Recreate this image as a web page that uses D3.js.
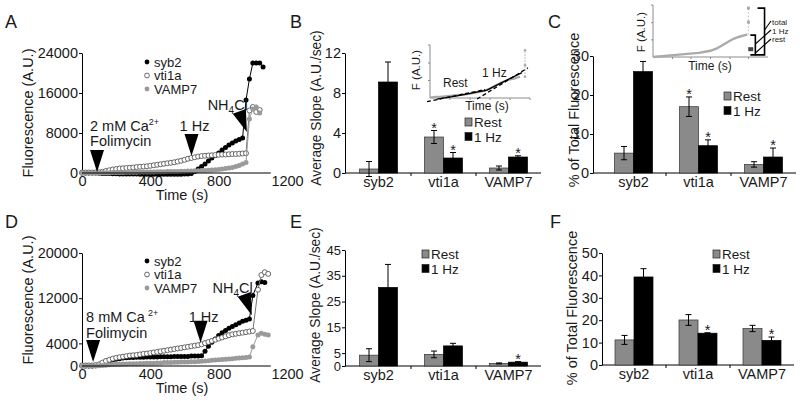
<!DOCTYPE html>
<html><head><meta charset="utf-8">
<script src="https://cdn.jsdelivr.net/npm/d3@7/dist/d3.min.js"></script>
<style>
body{margin:0;background:#fff;}
svg{display:block;font-family:"Liberation Sans",Arial,Helvetica,sans-serif;}
</style></head><body>
<svg id="chart" width="800" height="401"></svg>
<script>
// ---------------- DATA ----------------
const categories = ['syb2','vti1a','VAMP7'];
const conditions = ['Rest','1 Hz'];
const timeTicks = [0,400,800,1200];

// Panel A (2 mM Ca2+)
const timeA = [0,20,40,60,80,100,120,140,160,180,
  200,220,240,260,280,300,320,340,360,380,
  400,420,440,460,480,500,520,540,560,580,
  600,620,640,660,680,700,720,740,760,780,
  800,820,840,860,880,900,920,940,
  960,980,1000,1020,1040,1060];
const syb2A = [0,0,0,0,0,-50,-80,-100,-120,-150,
  -150,-180,-200,-200,-200,-220,-220,-250,-250,-250,
  -250,-250,-250,-250,-250,-250,-250,-250,-250,-250,
  -220,-200,-100,300,800,1300,1800,2400,3000,3500,
  4000,4600,5100,5600,6000,6400,6700,7000,
  14600,18800,22000,22000,22000,21200];
const vti1aA = [100,100,100,100,120,150,250,400,550,700,
  800,900,950,1000,1050,1100,1200,1250,1300,1350,
  1450,1550,1650,1750,1850,1950,2050,2150,2300,2450,
  2650,2850,3000,3150,3300,3400,3450,3500,3550,3600,
  3650,3700,3700,3750,3800,3800,3850,3900,
  3950,12500,13200,12200,12600,null];
const vamp7A = [0,0,0,0,0,0,50,50,50,100,
  100,100,100,150,150,150,150,200,200,200,
  200,200,250,250,250,300,300,300,300,350,
  350,400,400,450,450,500,500,550,600,650,
  700,800,900,1000,1100,1300,1500,1800,
  2100,10800,12800,13200,12000,null];
const yTicksA = [0,8000,16000,24000];
const stimTimesA = [88, 641, 965];       // Folimycin, 1 Hz, NH4Cl
const stimLevelsA = [200, 3400, 8200];

// Panel D (8 mM Ca2+)
const timeD = [0,20,40,60,80,100,120,140,160,180,
  200,220,240,260,280,300,320,340,360,380,
  400,420,440,460,480,500,520,540,560,580,
  600,620,640,660,680,700,720,740,760,780,
  800,820,840,860,880,900,920,940,960,980,
  1000,1030,1050,1070,1090];
const syb2D = [0,0,0,0,50,150,350,600,850,1050,
  1200,1300,1400,1450,1500,1500,1550,1550,1550,1600,
  1600,1600,1600,1650,1650,1650,1650,1700,1700,1700,
  1700,1700,1750,1750,1750,1800,2600,3500,4200,4800,
  5400,5900,6300,6700,7000,7300,7600,7900,8100,8300,
  12500,14700,14900,14800,null];
const vti1aD = [100,100,100,100,150,300,600,900,1100,1300,
  1450,1550,1650,1750,1850,1900,1950,2050,2150,2200,
  2300,2400,2500,2600,2700,2800,2900,3000,3100,3200,
  3300,3400,3500,3600,3700,3850,4050,4250,4450,4650,
  4850,5050,5250,5450,5600,5700,5800,5900,6000,6100,
  6200,13500,16100,16600,16300];
const vamp7D = [0,0,0,0,0,50,100,150,200,250,
  300,300,350,350,400,400,400,450,450,500,
  500,500,550,550,600,600,600,650,650,700,
  700,700,750,750,800,850,900,950,1000,1050,
  1100,1150,1200,1250,1300,1350,1400,1450,1500,1600,
  3400,5500,5800,5600,5500];
const yTicksD = [0,4000,12000,20000];
const stimTimesD = [65, 694, 994];
const stimLevelsD = [700, 4100, 9000];

// Panel B: average slope (A.U./sec), 2 mM
const slopeRestB = [0.4, 3.6, 0.5];
const slopeRestErrB = [0.75, 0.65, 0.2];
const slopeHzB = [9.1, 1.5, 1.6];
const slopeHzErrB = [2.0, 0.55, 0.12];
const starsRestB = [false, true, false];
const starsHzB = [false, true, true];
const yTicksB = [0,4,8,12];

// Panel C: % of total fluorescence, 2 mM
const pctRestC = [5.1, 17, 2.2];
const pctRestErrC = [1.7, 2.5, 0.7];
const pctHzC = [26, 7, 4.1];
const pctHzErrC = [2.6, 1.5, 2.3];
const starsRestC = [false, true, false];
const starsHzC = [false, true, true];
const yTicksC = [0,10,20,30];

// Panel E: average slope, 8 mM
const slopeRestE = [4.2, 4.5, 1.0];
const slopeRestErrE = [2.5, 1.3, 0.2];
const slopeHzE = [30.5, 7.8, 1.5];
const slopeHzErrE = [8.9, 1.0, 0.2];
const starsRestE = [false, false, false];
const starsHzE = [false, false, true];
const yTicksE = [0,5,15,25,35,45];

// Panel F: % of total fluorescence, 8 mM
const pctRestF = [11.2, 20.1, 16.3];
const pctRestErrF = [2.0, 2.4, 1.4];
const pctHzF = [39.3, 14.2, 11.0];
const pctHzErrF = [3.7, 0.2, 1.5];
const starsRestF = [false, false, false];
const starsHzF = [false, true, true];
const yTicksF = [0,10,20,30,40,50];

// Inset in B (schematic trace with fits)
const insetBTime = [0,5,10,15,20,25,30,35,40,45,50,55,60,65,70,75,80,85,88,90];
const insetBTrace = [1,2,2,3,4,5,6,7,8,10,12,14,18,23,28,32,35,37,39,40];
const insetBSpikeTime = [95,95,95];
const insetBSpike = [40,62,90];
const insetBFitTime = [7,30,57,92];
const insetBFit = [-2,5,15,48];
const restFitTime = [-3,55];
const restFitF = [-7,16];
const hzFitTime = [47,98];
const hzFitF = [-2,57];

// Inset in C (schematic trace with brackets)
const insetCTime = [0,5,10,15,20,25,30,35,40,45,50,55,60,65,70,75,80,82];
const insetCTrace = [0,1,2,3,4,5,6,7,8,10,12,16,22,29,35,39,42,43];
const insetCSpikeTime = [83,83];
const insetCSpike = [67,94];
const bracketTotal = [4,94];
const bracketHz = [4,42];

// ---------------- DRAWING ----------------
const svg = d3.select('#chart');
const FS = 14.5;
const GRAY = '#8a8a8a';
const TXT = '#1a1a1a';

function styleAxis(sel, fs){
  sel.attr('font-size', fs || FS).attr('font-family','"Liberation Sans", Arial, sans-serif');
  sel.selectAll('text').attr('fill',TXT);
  sel.selectAll('line,path').attr('stroke','#000').attr('stroke-width',1);
}
function yLabel(x, y, txt, fs){
  svg.append('text').attr('transform',`translate(${x},${y}) rotate(-90)`)
    .attr('text-anchor','middle').attr('dy','0.35em').attr('font-size',fs||FS).attr('fill',TXT).text(txt);
}
function letter(x, y, t){
  svg.append('text').attr('x',x).attr('y',y).attr('font-size',18).attr('fill',TXT).text(t);
}
function arrow(g, tx, ty, rot){
  g.append('path').attr('d','M-7,-22L7,-22L0,0Z')
    .attr('transform',`translate(${tx},${ty}) rotate(${rot})`).attr('fill','#000');
}

function drawTS(cfg){
  const g = svg.append('g');
  const x = d3.scaleLinear().domain([0,1200]).range([82,287]);
  const y = d3.scaleLinear().domain([0,cfg.yMax]).range([cfg.yBase,cfg.yTop]);
  const ya = g.append('g').attr('transform','translate(82,0)')
    .call(d3.axisLeft(y).tickValues(cfg.yTicks).tickSize(3).tickSizeOuter(0).tickPadding(1).tickFormat(d3.format('d')));
  styleAxis(ya);
  const xa = g.append('g').attr('transform',`translate(0,${cfg.yBase})`)
    .call(d3.axisBottom(x).tickValues(timeTicks).tickSize(0).tickPadding(3).tickFormat(d3.format('d')));
  xa.select('.domain').remove();
  styleAxis(xa);

  const series = [
    {vals: cfg.syb2, line:'#000', fill:'#000', stroke:'none'},
    {vals: cfg.vti1a, line:'#777', fill:'#fff', stroke:'#444'},
    {vals: cfg.vamp7, line:'#9a9a9a', fill:'#9a9a9a', stroke:'none'}
  ];
  series.forEach(s=>{
    const pts = cfg.time.map((t,i)=>({t, v:s.vals[i]})).filter(d=>d.v!==null);
    g.append('path').datum(pts)
      .attr('d', d3.line().x(d=>x(d.t)).y(d=>y(d.v)))
      .attr('fill','none').attr('stroke',s.line).attr('stroke-width',1);
    g.selectAll(null).data(pts).enter().append('circle')
      .attr('cx',d=>x(d.t)).attr('cy',d=>y(d.v)).attr('r',2.5)
      .attr('fill',s.fill).attr('stroke',s.stroke).attr('stroke-width',0.8);
  });
  g.append('line').attr('x1',82).attr('x2',x(1105)).attr('y1',cfg.yBase).attr('y2',cfg.yBase).attr('stroke','#000');

  // legend
  const leg = [{n:'syb2',fill:'#000',stroke:'none'},{n:'vti1a',fill:'#fff',stroke:'#444'},{n:'VAMP7',fill:'#9a9a9a',stroke:'none'}];
  leg.forEach((l,i)=>{
    const cy = cfg.legY + i*13.5;
    g.append('circle').attr('cx',147).attr('cy',cy).attr('r',2.4).attr('fill',l.fill).attr('stroke',l.stroke).attr('stroke-width',0.8);
    g.append('text').attr('x',154).attr('y',cy+4.5).attr('font-size',13).attr('fill',TXT).text(l.n);
  });

  // stimulus arrows
  const tips = cfg.stimT.map((t,i)=>[x(t), y(cfg.stimV[i])]);
  arrow(g, tips[0][0], tips[0][1], 0);
  arrow(g, tips[1][0], tips[1][1], 0);
  arrow(g, tips[2][0], tips[2][1], -20);
  const t1 = g.append('text').attr('x',tips[0][0]-7).attr('y',tips[0][1]-cfg.caOff).attr('font-size',FS).attr('fill',TXT).text(cfg.caText);
  t1.append('tspan').attr('dy',-6).attr('dx',cfg.caGap).attr('font-size',9).text('2+');
  g.append('text').attr('x',tips[0][0]-7).attr('y',tips[0][1]-cfg.folOff).attr('font-size',FS).attr('fill',TXT).text('Folimycin');
  g.append('text').attr('x',tips[1][0]+3).attr('y',tips[1][1]-cfg.hzOff).attr('text-anchor','middle').attr('font-size',FS).attr('fill',TXT).text('1 Hz');
  const nh = g.append('text').attr('x',tips[2][0]+1).attr('y',tips[2][1]-22).attr('text-anchor','end').attr('font-size',FS).attr('fill',TXT);
  nh.append('tspan').text('NH');
  nh.append('tspan').attr('dy',4).attr('font-size',10).text('4');
  nh.append('tspan').attr('dy',-4).text('Cl');

  g.append('text').attr('x',182).attr('y',cfg.yBase+27).attr('text-anchor','middle').attr('font-size',FS).attr('fill',TXT).text('Time (s)');
}

function drawBar(cfg){
  const g = svg.append('g');
  const x0 = d3.scaleBand().domain(categories).range(cfg.band).paddingInner(0).paddingOuter(0);
  const bw = x0.bandwidth();
  const x1 = d3.scaleBand().domain(conditions).range([bw/2-19, bw/2+19]);
  const y = d3.scaleLinear().domain([0,cfg.yMax]).range([cfg.yBase,cfg.yTop]);

  const ya = g.append('g').attr('transform',`translate(${cfg.axisX},0)`)
    .call(d3.axisLeft(y).tickValues(cfg.yTicks).tickSize(3).tickSizeOuter(0).tickPadding(1));
  styleAxis(ya, cfg.tickFS);
  g.append('line').attr('x1',cfg.axisX).attr('x2',cfg.band[1]).attr('y1',cfg.yBase).attr('y2',cfg.yBase).attr('stroke','#000');
  categories.slice(1).forEach(c=>{
    g.append('line').attr('x1',x0(c)).attr('x2',x0(c)).attr('y1',cfg.yBase).attr('y2',cfg.yBase+3).attr('stroke','#000');
  });
  categories.forEach(c=>{
    g.append('text').attr('x',x0(c)+bw/2).attr('y',cfg.yBase+14).attr('text-anchor','middle').attr('font-size',FS).attr('fill',TXT).text(c);
  });

  const sets = [
    {cond:'Rest', v:cfg.rest, e:cfg.restErr, s:cfg.starsRest, fill:GRAY, stroke:'#333'},
    {cond:'1 Hz', v:cfg.hz, e:cfg.hzErr, s:cfg.starsHz, fill:'#000', stroke:'#000'}
  ];
  sets.forEach(st=>{
    categories.forEach((c,i)=>{
      const bx = x0(c)+x1(st.cond);
      const v = st.v[i], e = st.e[i];
      g.append('rect').attr('x',bx).attr('y',y(v)).attr('width',x1.bandwidth()).attr('height',y(0)-y(v))
        .attr('fill',st.fill).attr('stroke',st.stroke).attr('stroke-width',0.7);
      const cx = bx + x1.bandwidth()/2;
      g.append('line').attr('x1',cx).attr('x2',cx).attr('y1',y(v-e)).attr('y2',y(v+e)).attr('stroke','#000').attr('stroke-width',1);
      [v-e, v+e].forEach(yy=>{
        g.append('line').attr('x1',cx-3).attr('x2',cx+3).attr('y1',y(yy)).attr('y2',y(yy)).attr('stroke','#000').attr('stroke-width',1);
      });
      if (st.s[i]) {
        g.append('text').attr('x',cx).attr('y',y(v+e)+2.3).attr('text-anchor','middle').attr('font-size',FS).attr('fill',TXT).text('*');
      }
    });
  });

  // legend
  conditions.forEach((c,i)=>{
    const by = cfg.legY + i*14.5;
    g.append('rect').attr('x',cfg.legX).attr('y',by-9).attr('width',7).attr('height',8)
      .attr('fill', i===0?GRAY:'#000').attr('stroke','#222').attr('stroke-width',0.7);
    g.append('text').attr('x',cfg.legX+9).attr('y',by).attr('font-size',13.5).attr('fill',TXT).text(c);
  });
}

// ---- Panels ----
letter(5,28,'A'); letter(5,228,'D');
letter(290,28,'B'); letter(290,228,'E');
letter(548,28,'C'); letter(550,228,'F');

yLabel(28,113,'Fluorescence (A.U.)');
yLabel(28,300,'Fluorescence (A.U.)');
yLabel(316,108,'Average Slope (A.U./sec)',13.8);
yLabel(315,305,'Average Slope (A.U./sec)',13.8);
yLabel(574,110,'% of Total Fluorescence');
yLabel(572,308,'% of Total Fluorescence');

drawTS({time:timeA, syb2:syb2A, vti1a:vti1aA, vamp7:vamp7A, yMax:24000, yTicks:yTicksA,
  yBase:173, yTop:53, legY:62, stimT:stimTimesA, stimV:stimLevelsA,
  caText:'2 mM Ca', caGap:0, caOff:41, folOff:26, hzOff:25});
drawTS({time:timeD, syb2:syb2D, vti1a:vti1aD, vamp7:vamp7D, yMax:20000, yTicks:yTicksD,
  yBase:366, yTop:253, legY:261, stimT:stimTimesD, stimV:stimLevelsD,
  caText:'8 mM Ca', caGap:3, caOff:40, folOff:24, hzOff:21});

drawBar({band:[346,541], axisX:345, yMax:12, yTicks:yTicksB, yBase:173, yTop:53,
  rest:slopeRestB, restErr:slopeRestErrB, hz:slopeHzB, hzErr:slopeHzErrB, starsRest:starsRestB, starsHz:starsHzB,
  legX:465, legY:127});
drawBar({band:[601,796], axisX:593, yMax:30, yTicks:yTicksC, yBase:173, yTop:56,
  rest:pctRestC, restErr:pctRestErrC, hz:pctHzC, hzErr:pctHzErrC, starsRest:starsRestC, starsHz:starsHzC,
  legX:724, legY:101});
drawBar({band:[346,541], axisX:345, yMax:45, yTicks:yTicksE, yBase:366, yTop:250, tickFS:13,
  rest:slopeRestE, restErr:slopeRestErrE, hz:slopeHzE, hzErr:slopeHzErrE, starsRest:starsRestE, starsHz:starsHzE,
  legX:422, legY:259});
drawBar({band:[602,794], axisX:602, yMax:50, yTicks:yTicksF, yBase:365, yTop:253,
  rest:pctRestF, restErr:pctRestErrF, hz:pctHzF, hzErr:pctHzErrF, starsRest:starsRestF, starsHz:starsHzF,
  legX:713, legY:259});

// ---- Inset B ----
(function(){
  const g = svg.append('g');
  const x = d3.scaleLinear().domain([0,100]).range([430,530]);
  const y = d3.scaleLinear().domain([0,100]).range([98,45]);
  const ax = '#8c8c8c';
  g.append('line').attr('x1',x(0)).attr('x2',x(0)).attr('y1',y(0)).attr('y2',y(100)).attr('stroke',ax);
  g.append('line').attr('x1',x(0)).attr('x2',x(100)).attr('y1',y(0)).attr('y2',y(0)).attr('stroke',ax);
  [20,40,60,80,100].forEach(t=>g.append('line').attr('x1',x(t)).attr('x2',x(t)).attr('y1',y(0)).attr('y2',y(0)+2).attr('stroke',ax));
  [33,66,100].forEach(f=>g.append('line').attr('x1',x(0)-2).attr('x2',x(0)).attr('y1',y(f)).attr('y2',y(f)).attr('stroke',ax));
  const tr = insetBTime.map((t,i)=>({t,f:insetBTrace[i]}));
  g.append('path').datum(tr).attr('d',d3.line().x(d=>x(d.t)).y(d=>y(d.f))).attr('fill','none').attr('stroke','#aaa').attr('stroke-width',2.2);
  const sp = insetBSpikeTime.map((t,i)=>({t,f:insetBSpike[i]}));
  g.append('line').attr('x1',x(sp[0].t)).attr('x2',x(sp[0].t)).attr('y1',y(insetBTrace[insetBTrace.length-1])).attr('y2',y(sp[2].f))
    .attr('stroke','#aaa').attr('stroke-dasharray','1.5,1.5');
  g.selectAll(null).data(sp).enter().append('circle').attr('cx',d=>x(d.t)).attr('cy',d=>y(d.f)).attr('r',1.3).attr('fill','#aaa');
  const fit = insetBFitTime.map((t,i)=>({t,f:insetBFit[i]}));
  g.append('path').datum(fit).attr('d',d3.line().x(d=>x(d.t)).y(d=>y(d.f))).attr('fill','none').attr('stroke','#000').attr('stroke-width',1.3);
  [[restFitTime,restFitF],[hzFitTime,hzFitF]].forEach(([tt,ff])=>{
    const pts = tt.map((t,i)=>({t,f:ff[i]}));
    g.append('path').datum(pts).attr('d',d3.line().x(d=>x(d.t)).y(d=>y(d.f))).attr('fill','none')
      .attr('stroke','#000').attr('stroke-width',1.3).attr('stroke-dasharray','4,2.5');
  });
  g.append('text').attr('x',443).attr('y',87).attr('font-size',12).attr('fill',TXT).text('Rest');
  g.append('text').attr('x',482).attr('y',77).attr('font-size',12).attr('fill',TXT).text('1 Hz');
  g.append('text').attr('x',487).attr('y',110).attr('text-anchor','middle').attr('font-size',12).attr('fill',TXT).text('Time (s)');
  g.append('text').attr('transform','translate(420,70) rotate(-90)').attr('text-anchor','middle').attr('font-size',11.5).attr('fill',TXT).text('F (A.U.)');
})();

// ---- Inset C ----
(function(){
  const g = svg.append('g');
  const x = d3.scaleLinear().domain([0,100]).range([653,768]);
  const y = d3.scaleLinear().domain([0,100]).range([57,5]);
  const ax = '#8c8c8c';
  g.append('line').attr('x1',x(0)).attr('x2',x(0)).attr('y1',y(0)).attr('y2',y(100)).attr('stroke',ax);
  g.append('line').attr('x1',x(0)).attr('x2',x(100)).attr('y1',y(0)).attr('y2',y(0)).attr('stroke',ax);
  [17,33,50,67,83].forEach(t=>g.append('line').attr('x1',x(t)).attr('x2',x(t)).attr('y1',y(0)).attr('y2',y(0)+2).attr('stroke',ax));
  [33,66,100].forEach(f=>g.append('line').attr('x1',x(0)-2).attr('x2',x(0)).attr('y1',y(f)).attr('y2',y(f)).attr('stroke',ax));
  const tr = insetCTime.map((t,i)=>({t,f:insetCTrace[i]}));
  g.append('path').datum(tr).attr('d',d3.line().x(d=>x(d.t)).y(d=>y(d.f))).attr('fill','none').attr('stroke','#aaa').attr('stroke-width',2.4);
  const sp = insetCSpikeTime.map((t,i)=>({t,f:insetCSpike[i]}));
  g.append('line').attr('x1',x(sp[0].t)).attr('x2',x(sp[0].t)).attr('y1',y(insetCTrace[insetCTrace.length-1])).attr('y2',y(sp[1].f))
    .attr('stroke','#bbb').attr('stroke-dasharray','1.5,2');
  g.selectAll(null).data(sp).enter().append('rect').attr('x',d=>x(d.t)-1.5).attr('y',d=>y(d.f)-1.5).attr('width',3).attr('height',3).attr('fill','#aaa');
  g.append('rect').attr('x',x(85)-2.5).attr('y',y(15)-2).attr('width',5).attr('height',4).attr('fill','#444');
  const bT = x(97), bH = x(89);
  g.append('path').attr('d',`M${bT-7},${y(bracketTotal[1])}H${bT}V${y(bracketTotal[0])}H${bT-9}`).attr('fill','none').attr('stroke','#000').attr('stroke-width',1.6);
  g.append('path').attr('d',`M${bH-5},${y(bracketHz[1])}H${bH}V${y(bracketHz[0])}H${bH-5}`).attr('fill','none').attr('stroke','#000').attr('stroke-width',1.6);
  g.append('line').attr('x1',771).attr('y1',21).attr('x2',bT).attr('y2',30).attr('stroke','#000').attr('stroke-width',1.1);
  g.append('line').attr('x1',771).attr('y1',30).attr('x2',bH).attr('y2',44).attr('stroke','#000').attr('stroke-width',1.1);
  g.append('line').attr('x1',771).attr('y1',39).attr('x2',bH).attr('y2',53).attr('stroke','#000').attr('stroke-width',1.1);
  [['total',25],['1 Hz',33.5],['rest',42]].forEach(([t,yy])=>{
    g.append('text').attr('x',772).attr('y',yy).attr('font-size',8).attr('fill',TXT).text(t);
  });
  g.append('text').attr('x',710).attr('y',70).attr('text-anchor','middle').attr('font-size',12).attr('fill',TXT).text('Time (s)');
  g.append('text').attr('transform','translate(645,32) rotate(-90)').attr('text-anchor','middle').attr('font-size',11.5).attr('fill',TXT).text('F (A.U.)');
})();
</script>
</body></html>
